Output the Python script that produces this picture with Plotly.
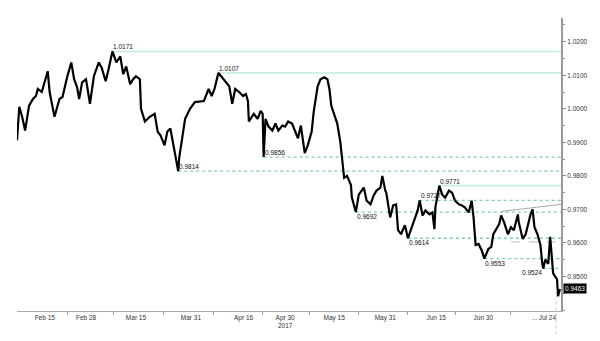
import plotly.graph_objects as go

DATES = [
"2017-02-06 11:00","2017-02-07 04:00","2017-02-08 01:00","2017-02-08 23:00","2017-02-10 04:00",
"2017-02-11 09:00","2017-02-12 07:00","2017-02-12 21:00","2017-02-14 02:00","2017-02-15 00:00",
"2017-02-15 22:00","2017-02-16 12:00","2017-02-18 00:00","2017-02-19 13:00","2017-02-20 11:00",
"2017-02-21 23:00","2017-02-23 04:00","2017-02-24 01:00","2017-02-24 23:00","2017-02-25 14:00",
"2017-02-26 12:00","2017-02-27 17:00","2017-02-28 22:00","2017-03-02 03:00","2017-03-03 15:00",
"2017-03-04 12:00","2017-03-05 18:00","2017-03-06 15:00","2017-03-07 20:00","2017-03-09 01:00",
"2017-03-10 06:00","2017-03-11 04:00","2017-03-12 02:00","2017-03-13 07:00","2017-03-14 05:00",
"2017-03-15 02:00","2017-03-16 07:00","2017-03-16 15:00","2017-03-17 20:00","2017-03-19 08:00",
"2017-03-20 20:00","2017-03-21 18:00","2017-03-22 16:00","2017-03-23 21:00","2017-03-24 18:00",
"2017-03-25 16:00","2017-03-26 21:00","2017-03-27 19:00","2017-03-28 02:00","2017-03-28 09:00",
"2017-03-29 07:00","2017-03-30 05:00","2017-03-31 17:00","2017-04-02 05:00","2017-04-04 23:00",
"2017-04-06 11:00","2017-04-07 09:00","2017-04-08 06:00","2017-04-09 11:00","2017-04-10 23:00",
"2017-04-11 21:00","2017-04-12 19:00","2017-04-13 17:00","2017-04-14 15:00","2017-04-15 20:00",
"2017-04-17 01:00","2017-04-17 22:00","2017-04-18 13:00","2017-04-18 20:00","2017-04-20 08:00",
"2017-04-21 13:00","2017-04-22 11:00","2017-04-23 02:00","2017-04-23 09:00","2017-04-23 23:00",
"2017-04-24 21:00","2017-04-26 02:00","2017-04-27 00:00","2017-04-27 22:00","2017-04-29 03:00",
"2017-04-30 00:00","2017-04-30 22:00","2017-05-02 03:00","2017-05-03 01:00","2017-05-03 23:00",
"2017-05-04 20:00","2017-05-05 11:00","2017-05-06 01:00","2017-05-06 23:00","2017-05-08 04:00",
"2017-05-08 19:00","2017-05-10 00:00","2017-05-10 21:00","2017-05-12 02:00","2017-05-13 00:00",
"2017-05-13 15:00","2017-05-14 05:00","2017-05-15 03:00","2017-05-16 01:00","2017-05-16 23:00",
"2017-05-17 13:00","2017-05-18 04:00","2017-05-19 01:00","2017-05-20 06:00","2017-05-20 13:00",
"2017-05-21 18:00","2017-05-22 16:00","2017-05-24 05:00","2017-05-25 02:00","2017-05-26 07:00",
"2017-05-27 05:00","2017-05-28 03:00","2017-05-29 08:00","2017-05-29 22:00","2017-05-30 20:00",
"2017-05-31 03:00","2017-06-01 08:00","2017-06-02 06:00","2017-06-03 04:00","2017-06-03 18:00",
"2017-06-04 16:00","2017-06-05 21:00","2017-06-06 19:00","2017-06-07 17:00","2017-06-08 22:00",
"2017-06-09 19:00","2017-06-10 10:00","2017-06-11 07:00","2017-06-12 05:00","2017-06-13 10:00",
"2017-06-14 08:00","2017-06-14 23:00","2017-06-15 06:00","2017-06-16 11:00","2017-06-17 09:00",
"2017-06-18 06:00","2017-06-19 11:00","2017-06-20 09:00","2017-06-21 07:00","2017-06-22 12:00",
"2017-06-23 10:00","2017-06-24 07:00","2017-06-25 12:00","2017-06-26 10:00","2017-06-27 00:00",
"2017-06-27 15:00","2017-06-28 13:00","2017-06-29 11:00","2017-06-30 08:00","2017-07-01 13:00",
"2017-07-02 11:00","2017-07-03 02:00","2017-07-03 23:00","2017-07-04 21:00","2017-07-05 12:00",
"2017-07-06 09:00","2017-07-07 14:00","2017-07-08 12:00","2017-07-09 10:00","2017-07-10 15:00",
"2017-07-10 22:00","2017-07-12 03:00","2017-07-13 01:00","2017-07-14 13:00","2017-07-15 04:00",
"2017-07-15 18:00","2017-07-16 16:00","2017-07-17 14:00","2017-07-18 04:00","2017-07-18 11:00",
"2017-07-19 02:00","2017-07-20 00:00","2017-07-20 14:00","2017-07-21 05:00","2017-07-21 12:00",
"2017-07-22 17:00","2017-07-23 00:00","2017-07-23 14:00",
]

PRICES = [
0.9906,1.0006,0.9976,0.9935,1.0009,
1.0029,1.0038,1.0059,1.0050,1.0079,
1.0112,1.0050,0.9976,1.0029,1.0035,
1.0097,1.0138,1.0088,1.0064,1.0029,
1.0079,1.0088,1.0015,1.0097,1.0138,
1.0123,1.0082,1.0117,1.0171,1.0138,
1.0156,1.0103,1.0126,1.0073,1.0088,
1.0097,1.0088,1.0000,0.9962,0.9976,
0.9985,0.9932,0.9920,0.9891,0.9932,
0.9941,0.9882,0.9838,0.9814,0.9853,
0.9920,0.9970,1.0000,1.0020,1.0023,
1.0059,1.0038,1.0059,1.0107,1.0088,
1.0079,1.0067,1.0015,1.0059,1.0050,
1.0038,1.0044,1.0023,0.9962,0.9985,
0.9970,0.9994,0.9985,0.9856,0.9970,
0.9947,0.9935,0.9956,0.9935,0.9950,
0.9947,0.9962,0.9956,0.9932,0.9912,
0.9950,0.9903,0.9868,0.9891,0.9932,
0.9991,1.0067,1.0088,1.0094,1.0088,
1.0059,1.0009,0.9985,0.9956,0.9903,
0.9844,0.9794,0.9800,0.9773,0.9735,
0.9692,0.9744,0.9765,0.9726,0.9715,
0.9741,0.9756,0.9765,0.9800,0.9756,
0.9750,0.9676,0.9712,0.9715,0.9638,
0.9626,0.9653,0.9614,0.9638,0.9668,
0.9697,0.9727,0.9682,0.9697,0.9685,
0.9691,0.9641,0.9706,0.9771,0.9744,
0.9735,0.9756,0.9750,0.9726,0.9715,
0.9712,0.9706,0.9691,0.9726,0.9676,
0.9594,0.9597,0.9579,0.9553,0.9582,
0.9588,0.9626,0.9641,0.9656,0.9682,
0.9662,0.9626,0.9647,0.9638,0.9685,
0.9662,0.9612,0.9626,0.9685,0.9700,
0.9647,0.9626,0.9594,0.9538,0.9524,
0.9550,0.9538,0.9618,0.9538,0.9509,
0.9491,0.9441,0.9463,
]

LAST_PRICE = 0.9463

# Support / resistance levels
LEVELS       = [1.0171, 1.0107, 0.9856, 0.9814, 0.9771, 0.9727, 0.9692, 0.9614, 0.9553, 0.9524]
LEVEL_START  = ["2017-03-07 20:00", "2017-04-09 11:00", "2017-04-23 09:00", "2017-03-28 02:00",
                "2017-06-16 11:00", "2017-06-10 10:00", "2017-05-21 18:00", "2017-06-06 19:00",
                "2017-06-30 08:00", "2017-07-18 11:00"]
LEVEL_SOLID  = [True, True, False, False, True, False, False, False, False, False]
LEVEL_LABEL  = ["above", "above", "above", "above", "above", "above", "below", "below", "below", "belowleft"]

# Trend line and extra dashed level
TREND_X = ["2017-07-05 12:00", "2017-07-23 22:00"]
TREND_Y = [0.9694, 0.9715]
GREY_LEVEL = 0.9603
GREY_START = "2017-07-08 12:00"

X_RANGE = ["2017-02-06 11:00", "2017-07-23 22:00"]
Y_RANGE = [0.93971, 1.02706]

X_TICKVALS = ["2017-02-15 00:00", "2017-02-27 17:00", "2017-03-15 02:00", "2017-04-01 00:00",
              "2017-04-17 05:00", "2017-04-30 00:00", "2017-05-15 02:00", "2017-05-30 20:00",
              "2017-06-15 12:00", "2017-06-30 00:00", "2017-07-15 19:00", "2017-07-19 17:00"]
X_TICKTEXT = ["Feb 15", "Feb 28", "Mar 15", "Mar 31", "Apr 16", "Apr 30<br>2017", "May 15",
              "May 31", "Jun 15", "Jun 30", "...", "Jul 24"]
X_MINOR = ["2017-02-21 23:00", "2017-03-08 04:00", "2017-03-23 13:00", "2017-04-07 23:00",
           "2017-04-23 02:00", "2017-05-07 14:00", "2017-05-22 16:00", "2017-06-06 19:00",
           "2017-06-21 07:00", "2017-07-08 12:00"]
Y_TICKVALS = [0.95, 0.96, 0.97, 0.98, 0.99, 1.00, 1.01, 1.02]

FONT = "Liberation Sans"
SOLID_COLOR = "#c4e8da"
DOT_COLOR = "#7fcfb2"

fig = go.Figure()

for lvl, start, solid in zip(LEVELS, LEVEL_START, LEVEL_SOLID):
    fig.add_trace(go.Scatter(
        x=[start, X_RANGE[1]], y=[lvl, lvl], mode="lines",
        line=dict(color=SOLID_COLOR if solid else DOT_COLOR, width=1.5 if solid else 1.3,
                  dash="solid" if solid else "dot"),
        hoverinfo="skip", showlegend=False))

fig.add_trace(go.Scatter(x=[GREY_START, X_RANGE[1]], y=[GREY_LEVEL, GREY_LEVEL], mode="lines",
                         line=dict(color="#bbbbbb", width=1, dash="dash"),
                         hoverinfo="skip", showlegend=False))
fig.add_trace(go.Scatter(x=TREND_X, y=TREND_Y, mode="lines",
                         line=dict(color="#a8a8a8", width=1),
                         hoverinfo="skip", showlegend=False))

fig.add_trace(go.Scatter(x=DATES, y=PRICES, mode="lines",
                         line=dict(color="#000000", width=2.2),
                         showlegend=False))

for lvl, start, pos in zip(LEVELS, LEVEL_START, LEVEL_LABEL):
    if pos == "above":
        xa, ya = "left", "bottom"
    elif pos == "below":
        xa, ya = "left", "top"
    else:
        xa, ya = "right", "top"
    fig.add_annotation(x=start, y=lvl, text=f"{lvl:.4f}", showarrow=False,
                       xanchor=xa, yanchor=ya, borderpad=0,
                       font=dict(family=FONT, size=6.5, color="#111111"))

fig.add_annotation(x=1.0, xref="paper", y=LAST_PRICE, yref="y", text=f"{LAST_PRICE:.4f}",
                   showarrow=False, xanchor="left", yanchor="middle", xshift=2,
                   bgcolor="#000000", borderpad=1,
                   font=dict(family=FONT, size=6.5, color="#ffffff"))

fig.add_shape(type="line", xref="x", yref="paper", x0="2017-07-22 10:00", x1="2017-07-22 10:00",
              y0=-0.08, y1=0.08, line=dict(color="#cccccc", width=1, dash="dot"))

fig.update_layout(
    width=600, height=341,
    margin=dict(l=17, r=29, t=18, b=26),
    paper_bgcolor="white", plot_bgcolor="white",
    font=dict(family=FONT, size=6.5, color="#333333"),
    xaxis=dict(
        type="date", range=X_RANGE, showgrid=False, zeroline=False,
        showline=True, linecolor="#aaaaaa", linewidth=1,
        tickmode="array", tickvals=X_TICKVALS, ticktext=X_TICKTEXT,
        ticks="", tickangle=0, tickfont=dict(family=FONT, size=6.5, color="#333333"),
        minor=dict(tickmode="array", tickvals=X_MINOR, ticks="outside", ticklen=3,
                   tickcolor="#999999", showgrid=False),
    ),
    yaxis=dict(
        side="right", range=Y_RANGE, showgrid=False, zeroline=False,
        showline=True, linecolor="#999999", linewidth=2,
        tickmode="array", tickvals=Y_TICKVALS, tickformat=".4f",
        ticks="outside", ticklen=3, tickcolor="#888888",
        tickfont=dict(family=FONT, size=6.5, color="#333333"),
        minor=dict(dtick=0.005, tick0=0.95, ticks="outside", ticklen=2, tickcolor="#999999",
                   showgrid=False),
    ),
)

fig.write_html("out.html")
